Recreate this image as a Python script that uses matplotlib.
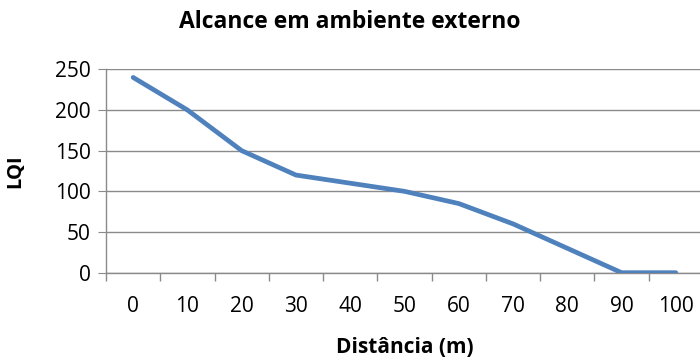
import numpy as np
import matplotlib.pyplot as plt
from matplotlib.ticker import FixedLocator

# dados
distancias = ['0', '10', '20', '30', '40', '50', '60', '70', '80', '90', '100']
lqi = [240, 200, 150, 120, 110, 100, 85, 60, 30, 0, 0]
y_ticks = [0, 50, 100, 150, 200, 250]

plt.rcParams['font.family'] = ['Open Sans', 'DejaVu Sans']

fig = plt.figure(figsize=(7, 3.63), dpi=100)
ax = fig.add_axes([106 / 700, 1 - 272.7 / 363, 597 / 700, (272.7 - 69.3) / 363])

x = np.arange(len(distancias))
ax.plot(x, lqi, color='#4F81BD', lw=3.4, solid_capstyle='round', solid_joinstyle='round', zorder=3)

ax.set_xlim(-0.5, len(distancias) - 0.5)
ax.set_ylim(0, 250)
ax.set_yticks(y_ticks)
ax.set_xticks(x)
ax.set_xticklabels(distancias)
ax.xaxis.set_minor_locator(FixedLocator(np.arange(-0.5, len(distancias), 1)))

grid_col = '#8A8A8A'
ax.grid(axis='y', color=grid_col, lw=1.0, zorder=0)
for s in ['top', 'right']:
    ax.spines[s].set_visible(False)
for s in ['left', 'bottom']:
    ax.spines[s].set_color(grid_col)
    ax.spines[s].set_linewidth(1.0)

ax.tick_params(axis='y', length=6, color=grid_col, labelsize=15, pad=5)
ax.tick_params(axis='x', which='major', length=0, labelsize=15, pad=17)
ax.tick_params(axis='x', which='minor', length=6, color=grid_col, width=1.0)

ax.set_xlabel('Distância (m)', fontsize=15, fontweight='bold')
ax.xaxis.label.set_va('baseline')
ax.xaxis.set_label_coords(0.5, (272.7 - 353) / 203.4)
ax.set_ylabel('LQI', fontsize=14.5, fontweight='bold')
ax.yaxis.label.set_va('center')
ax.yaxis.set_label_coords((15 - 106) / 597, 0.5)
fig.text(0.5, 1 - 28.3 / 363, 'Alcance em ambiente externo', ha='center', va='baseline',
         fontsize=16.5, fontweight='bold')

fig.savefig('out.png', dpi=100)
